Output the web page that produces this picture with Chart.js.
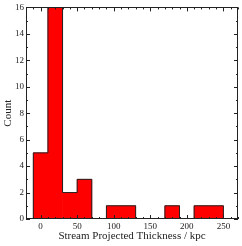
<!DOCTYPE html>
<html>
<head>
<meta charset="utf-8">
<script src="https://cdn.jsdelivr.net/npm/chart.js@4/dist/chart.umd.min.js"></script>
<style>
  html, body { margin: 0; padding: 0; background: #fff; }
  #wrap { width: 242px; height: 246px; position: relative; }
</style>
</head>
<body>
<div id="wrap"><canvas id="hist"></canvas></div>
<script>
  // histogram, 20 kpc bins from -10 to 250 (left edges)
  const binEdges = [-10, 10, 30, 50, 70, 90, 110, 130, 150, 170, 190, 210, 230];
  const counts = [5, 16, 2, 3, 0, 1, 1, 0, 0, 1, 0, 1, 1];
  const binWidth = 20;
  const xTicks = [0, 50, 100, 150, 200, 250];
  const yTicks = [0, 2, 4, 6, 8, 10, 12, 14, 16];

  const serif = "'Liberation Serif', 'DejaVu Serif', serif";
  const ink = "#222";

  // stepfilled outline: left edge of each bin at its count, closed at both ends
  const lastEdge = binEdges[binEdges.length - 1] + binWidth;
  const outline = [{ x: binEdges[0], y: 0 }]
    .concat(binEdges.map((e, i) => ({ x: e, y: counts[i] })))
    .concat([{ x: lastEdge, y: 0 }]);

  // matplotlib-style frame with inward ticks on all four sides
  const frameTicks = {
    id: "frameTicks",
    afterDatasetsDraw(chart) {
      const { ctx, chartArea: a, scales } = chart;
      const x = scales.x, y = scales.y;
      ctx.save();
      ctx.strokeStyle = ink;
      ctx.lineWidth = 1;
      ctx.beginPath();
      for (let v = -20; v <= 270; v += 10) {
        const px = Math.round(x.getPixelForValue(v)) + 0.5;
        const len = v % 50 === 0 ? 4 : 2;
        ctx.moveTo(px, a.bottom); ctx.lineTo(px, a.bottom - len);
        ctx.moveTo(px, a.top); ctx.lineTo(px, a.top + len);
      }
      for (let v = 0; v <= 16; v += 1) {
        const py = Math.round(y.getPixelForValue(v)) + 0.5;
        const len = v % 2 === 0 ? 4 : 2;
        ctx.moveTo(a.left, py); ctx.lineTo(a.left + len, py);
        ctx.moveTo(a.right, py); ctx.lineTo(a.right - len, py);
      }
      ctx.stroke();
      ctx.strokeRect(Math.round(a.left) + 0.5, Math.round(a.top) + 0.5,
        Math.round(a.right - a.left) - 1, Math.round(a.bottom - a.top) - 1);
      ctx.restore();
    }
  };

  new Chart(document.getElementById("hist"), {
    type: "bar",
    data: {
      datasets: [
        {
          type: "line",
          order: 0,
          data: outline,
          stepped: "before",
          borderColor: ink,
          borderWidth: 1,
          fill: false,
          pointRadius: 0,
          tension: 0
        },
        {
          order: 1,
          data: binEdges.map((e, i) => ({ x: e + binWidth / 2, y: counts[i] })),
          backgroundColor: "#ff0000",
          borderWidth: 0,
          barPercentage: 1,
          categoryPercentage: 1
        }
      ]
    },
    options: {
      responsive: true,
      maintainAspectRatio: false,
      animation: false,
      layout: { padding: { left: 2, right: 4, top: 7, bottom: 0 } },
      plugins: { legend: { display: false }, tooltip: { enabled: false } },
      scales: {
        x: {
          type: "linear",
          min: -20,
          max: 270,
          offset: false,
          grid: { display: false, drawTicks: false, offset: false },
          border: { display: false },
          afterBuildTicks: (s) => { s.ticks = xTicks.map(v => ({ value: v })); },
          afterFit: (s) => { s.height = 27; },
          ticks: { color: ink, padding: 2, maxRotation: 0, font: { family: serif, size: 9 } },
          title: {
            display: true,
            text: "Stream Projected Thickness / kpc",
            color: ink,
            padding: { top: 0, bottom: 3 },
            font: { family: serif, size: 11 }
          }
        },
        y: {
          min: 0,
          max: 16,
          grid: { display: false, drawTicks: false },
          border: { display: false },
          afterBuildTicks: (s) => { s.ticks = yTicks.map(v => ({ value: v })); },
          afterFit: (s) => { s.width = 24; },
          ticks: { color: ink, padding: 2, font: { family: serif, size: 9 } },
          title: {
            display: true,
            text: "Count",
            color: ink,
            padding: 0,
            font: { family: serif, size: 11 }
          }
        }
      }
    },
    plugins: [frameTicks]
  });
</script>
</body>
</html>
